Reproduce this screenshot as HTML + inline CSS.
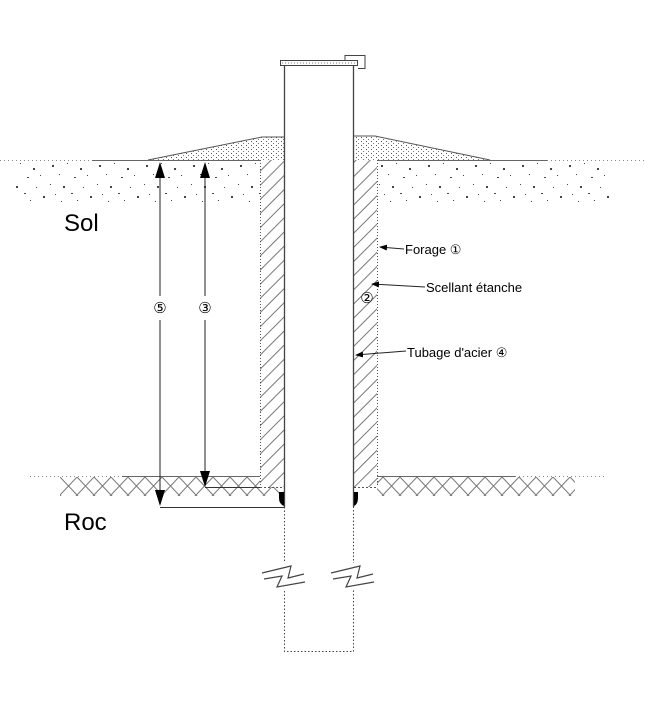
<!DOCTYPE html>
<html><head><meta charset="utf-8"><style>
html,body{margin:0;padding:0;background:#fff;}
svg{display:block;font-family:"Liberation Sans",sans-serif;}
</style></head><body>
<svg width="645" height="702" viewBox="0 0 645 702" xmlns="http://www.w3.org/2000/svg">
<defs>
<pattern id="soil" x="0" y="160" width="47" height="45" patternUnits="userSpaceOnUse">
<g fill="#444">
<rect x="5" y="5" width="2" height="2"/><rect x="20" y="3" width="1" height="1"/><rect x="33" y="8" width="2" height="2"/>
<rect x="12" y="14" width="1" height="1"/><rect x="27" y="17" width="2" height="1"/><rect x="40" y="15" width="1" height="1"/>
<rect x="3" y="24" width="1" height="1"/><rect x="16" y="26" width="2" height="2"/><rect x="36" y="27" width="1" height="1"/>
<rect x="8" y="34" width="1" height="1"/><rect x="24" y="33" width="2" height="1"/><rect x="43" y="36" width="2" height="2"/>
<rect x="30" y="40" width="1" height="1"/><rect x="14" y="41" width="1" height="1"/>
</g>
</pattern>
<pattern id="gravel" width="5" height="4" patternUnits="userSpaceOnUse">
<rect x="1" y="1" width="1" height="1" fill="#555"/><rect x="3" y="3" width="1" height="1" fill="#777"/>
</pattern>
<pattern id="hatch" width="10" height="10" patternUnits="userSpaceOnUse" patternTransform="rotate(45)">
<line x1="5" y1="0" x2="5" y2="10" stroke="#777" stroke-width="1"/>
</pattern>
<pattern id="cross" x="60" y="477" width="17" height="18" patternUnits="userSpaceOnUse">
<path d="M0 0 L17 18 M17 0 L0 18" stroke="#777" stroke-width="1" fill="none"/>
</pattern>
<marker id="ah" markerWidth="8" markerHeight="10" refX="7" refY="3" orient="auto" markerUnits="userSpaceOnUse"><path d="M0 0 L8 3 L0 6 Z" fill="#000"/></marker>
</defs>

<rect x="15" y="161" width="245" height="44" fill="url(#soil)"/>
<rect x="377" y="161" width="235" height="44" fill="url(#soil)"/>
<path d="M148 160 L262 137 L284 137 L284 160 Z" fill="url(#gravel)"/>
<path d="M148 160 L262 137 L284 137" fill="none" stroke="#555" stroke-width="1"/>
<path d="M354 137 L375 137 L490 160 L354 160 Z" fill="url(#gravel)"/>
<path d="M354 136 L375 136 L490 160" fill="none" stroke="#555" stroke-width="1"/>
<line x1="0" y1="160.5" x2="92" y2="160.5" stroke="#888" stroke-dasharray="1,3"/>
<line x1="92" y1="160.5" x2="284" y2="160.5" stroke="#666"/>
<line x1="354" y1="160.5" x2="547" y2="160.5" stroke="#666"/>
<line x1="547" y1="160.5" x2="645" y2="160.5" stroke="#888" stroke-dasharray="1,3"/>
<rect x="60" y="477" width="200" height="19" fill="url(#cross)"/>
<rect x="377" y="477" width="198" height="19" fill="url(#cross)"/>
<rect x="260" y="487" width="24" height="9" fill="url(#cross)"/>
<line x1="30" y1="476.5" x2="122" y2="476.5" stroke="#888" stroke-dasharray="1,3"/>
<line x1="122" y1="476.5" x2="260" y2="476.5" stroke="#666"/>
<line x1="377" y1="476.5" x2="515" y2="476.5" stroke="#666"/>
<line x1="515" y1="476.5" x2="607" y2="476.5" stroke="#888" stroke-dasharray="1,3"/>
<rect x="260" y="160" width="24" height="327" fill="#fff"/>
<rect x="354" y="160" width="23" height="327" fill="#fff"/>
<rect x="260" y="160" width="24" height="327" fill="url(#hatch)"/>
<rect x="354" y="160" width="23" height="327" fill="url(#hatch)"/>
<line x1="260.5" y1="160" x2="260.5" y2="487" stroke="#555" stroke-dasharray="1,2"/>
<line x1="377.5" y1="160" x2="377.5" y2="487" stroke="#555" stroke-dasharray="1,2"/>
<line x1="205" y1="487.5" x2="260" y2="487.5" stroke="#333"/>
<line x1="260" y1="487.5" x2="284" y2="487.5" stroke="#555" stroke-dasharray="2,2"/>
<line x1="354" y1="487.5" x2="377" y2="487.5" stroke="#555" stroke-dasharray="2,2"/>
<rect x="284" y="65" width="70" height="442" fill="#fff"/>
<line x1="284.5" y1="65" x2="284.5" y2="507" stroke="#444" stroke-width="1.3"/>
<line x1="353.5" y1="65" x2="353.5" y2="507" stroke="#444" stroke-width="1.3"/>
<path d="M284.5 507 L284.5 651.5 L353.5 651.5 L353.5 507" fill="none" stroke="#444" stroke-dasharray="1.5,2"/>
<rect x="280.5" y="60.5" width="77" height="5" fill="#fff" stroke="#444"/>
<line x1="282" y1="63" x2="356" y2="63" stroke="#777" stroke-dasharray="1,2"/>
<path d="M345 60.5 L345 55.5 L365 55.5 L365 68.5 L358 68.5" fill="none" stroke="#444"/>
<path d="M279 492 L284 492 L284 506 Q279 504 279 498 Z" fill="#000"/>
<path d="M354 492 L358 492 L358 498 Q358 504 354 506 Z" fill="#000"/>
<rect x="262" y="563" width="45" height="26" fill="#fff"/>
<rect x="330" y="563" width="46" height="26" fill="#fff"/>
<path d="M262 573 L291 566 L288 578 L304 574 M264 579 L282 576 L277 587 L305 582" fill="none" stroke="#444" stroke-width="1.2"/>
<path d="M331 573 L360 566 L357 578 L373 574 M333 579 L351 576 L346 587 L374 582" fill="none" stroke="#444" stroke-width="1.2"/>
<line x1="160" y1="174" x2="160" y2="296" stroke="#222"/>
<line x1="160" y1="320" x2="160" y2="494" stroke="#222"/>
<path d="M160 162 L155 178 L165 178 Z" fill="#000"/>
<path d="M160 506 L155 490 L165 490 Z" fill="#000"/>
<line x1="160" y1="507.5" x2="284" y2="507.5" stroke="#333"/>
<line x1="205" y1="174" x2="205" y2="296" stroke="#222"/>
<line x1="205" y1="320" x2="205" y2="474" stroke="#222"/>
<path d="M205 162 L200 178 L210 178 Z" fill="#000"/>
<path d="M205 487 L200 471 L210 471 Z" fill="#000"/>
<text x="160" y="313" font-size="15" text-anchor="middle">⑤</text>
<text x="205" y="313" font-size="15" text-anchor="middle">③</text>
<text x="64" y="231" font-size="24">Sol</text>
<text x="64" y="530" font-size="24">Roc</text>
<line x1="404" y1="249" x2="380" y2="247" stroke="#222" marker-end="url(#ah)"/>
<text x="405" y="254" font-size="13">Forage ①</text>
<line x1="425" y1="287" x2="372" y2="284" stroke="#222" marker-end="url(#ah)"/>
<text x="426" y="292" font-size="13">Scellant étanche</text>
<text x="367" y="303" font-size="15" text-anchor="middle">②</text>
<line x1="406" y1="351" x2="356" y2="355" stroke="#222" marker-end="url(#ah)"/>
<text x="407" y="357" font-size="13">Tubage d'acier ④</text>
</svg>
</body></html>
